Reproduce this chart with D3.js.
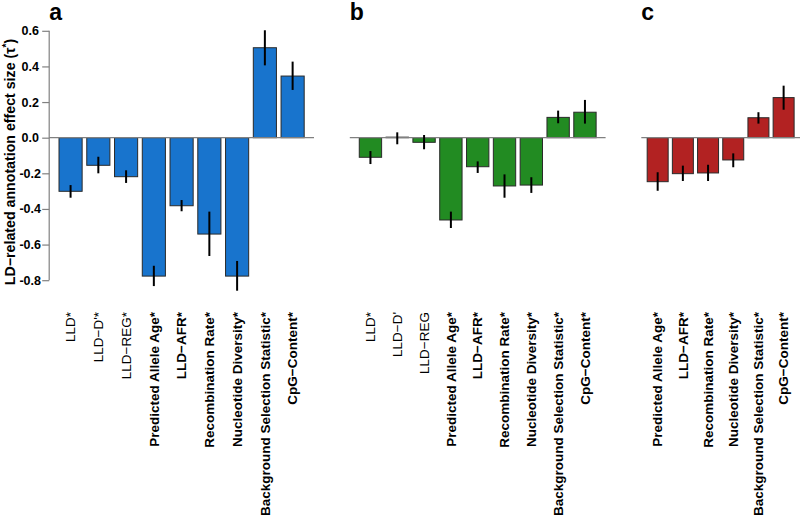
<!DOCTYPE html>
<html lang="en">
<head>
<meta charset="utf-8">
<title>LD-related annotation effect sizes</title>
<script src="https://d3js.org/d3.v7.min.js"></script>
<style>
    body { margin: 0; background: #fff; }
    text { font-family: Arial, Helvetica, sans-serif; fill: #000; }
</style>
</head>
<body>
<div id="chart"></div>
<script>
    // panel a - all annotations
    const labelsA = ["LLD*", "LLD\u2212D'*", "LLD\u2212REG*", "Predicted Allele Age*", "LLD\u2212AFR*",
        "Recombination Rate*", "Nucleotide Diversity*", "Background Selection Statistic*", "CpG\u2212Content*"];
    const valuesA = [-0.301, -0.155, -0.219, -0.777, -0.382, -0.541, -0.777, 0.505, 0.346];
    const lowerA  = [-0.337, -0.200, -0.254, -0.833, -0.413, -0.664, -0.859, 0.406, 0.268];
    const upperA  = [-0.266, -0.107, -0.183, -0.719, -0.350, -0.415, -0.692, 0.603, 0.427];
    const boldA   = [false, false, false, true, true, true, true, true, true];

    // panel b
    const labelsB = ["LLD*", "LLD\u2212D'", "LLD\u2212REG", "Predicted Allele Age*", "LLD\u2212AFR*",
        "Recombination Rate*", "Nucleotide Diversity*", "Background Selection Statistic*", "CpG\u2212Content*"];
    const valuesB = [-0.110, 0.003, -0.026, -0.462, -0.163, -0.271, -0.266, 0.114, 0.143];
    const lowerB  = [-0.148, -0.037, -0.065, -0.507, -0.198, -0.337, -0.310, 0.081, 0.079];
    const upperB  = [-0.075, 0.030, 0.015, -0.415, -0.133, -0.206, -0.222, 0.152, 0.212];
    const boldB   = [false, false, false, true, true, true, true, true, true];

    // panel c
    const labelsC = ["Predicted Allele Age*", "LLD\u2212AFR*", "Recombination Rate*", "Nucleotide Diversity*",
        "Background Selection Statistic*", "CpG\u2212Content*"];
    const valuesC = [-0.247, -0.202, -0.198, -0.125, 0.112, 0.225];
    const lowerC  = [-0.298, -0.243, -0.243, -0.166, 0.079, 0.157];
    const upperC  = [-0.194, -0.157, -0.152, -0.088, 0.143, 0.292];
    const boldC   = [true, true, true, true, true, true];

    const yTicks = [0.6, 0.4, 0.2, 0.0, -0.2, -0.4, -0.6, -0.8];

    const width = 800, height = 520;
    const svg = d3.select("#chart").append("svg")
        .attr("width", width)
        .attr("height", height);

    const y = d3.scaleLinear().domain([-0.8, 0.6]).range([280.2, 30.8]);

    const panels = [
        {letter: "a", labels: labelsA, values: valuesA, lower: lowerA, upper: upperA, bold: boldA, color: "#1874CD", left: 49.2, right: 314},
        {letter: "b", labels: labelsB, values: valuesB, lower: lowerB, upper: upperB, bold: boldB, color: "#228B22", left: 349.8, right: 605.6},
        {letter: "c", labels: labelsC, values: valuesC, lower: lowerC, upper: upperC, bold: boldC, color: "#B22222", left: 641.3, right: 800}
    ];

    panels.forEach(drawPanel);

    // y axis only on the first panel
    const yAxis = svg.append("g")
        .attr("transform", `translate(${panels[0].left},0)`)
        .call(d3.axisLeft(y).tickValues(yTicks).tickSize(7).tickFormat(d3.format(".1f")));
    yAxis.attr("font-family", null).attr("font-size", null);
    yAxis.select(".domain").attr("stroke", "#808080").attr("stroke-width", 1.2)
        .attr("d", `M0,${y(0.6)}V${y(-0.8)}`);
    yAxis.selectAll(".tick line").attr("stroke", "#808080").attr("stroke-width", 1.2);
    yAxis.selectAll(".tick text")
        .attr("x", -19)
        .attr("text-anchor", "middle")
        .style("font-size", "12.5px")
        .style("font-weight", "bold")
        .text(d => d3.format(".1f")(d).replace("\u2212", "-"));

    const title = svg.append("text")
        .attr("transform", `translate(15,162) rotate(-90)`)
        .attr("text-anchor", "middle")
        .style("font-size", "14.2px")
        .style("font-weight", "bold");
    title.append("tspan").text("LD\u2212related annotation effect size (\u03c4");
    title.append("tspan").attr("dy", -5).style("font-size", "10px").text("*");
    title.append("tspan").attr("dy", 5).text(")");

    function drawPanel(p) {
        const n = p.values.length;
        // same spacing as R barplot: space 0.2, 4% padding on both sides
        const ext = 0.04 * (1.2 * n - 0.2);
        const x = d3.scaleBand()
            .domain(d3.range(n))
            .range([p.left, p.right])
            .paddingInner(0.2 / 1.2)
            .paddingOuter(ext / 1.2);

        const g = svg.append("g");

        g.selectAll("rect")
            .data(p.values)
            .enter()
            .append("rect")
            .attr("x", (d, i) => x(i))
            .attr("width", x.bandwidth())
            .attr("y", d => y(Math.max(0, d)))
            .attr("height", d => Math.abs(y(d) - y(0)))
            .attr("fill", p.color)
            .attr("stroke", "#2a2a2a")
            .attr("stroke-width", 1);

        g.append("line")
            .attr("x1", p.left)
            .attr("x2", p.right)
            .attr("y1", y(0))
            .attr("y2", y(0))
            .attr("stroke", "#808080")
            .attr("stroke-width", 1.2);

        g.selectAll("line.err")
            .data(p.values)
            .enter()
            .append("line")
            .attr("class", "err")
            .attr("x1", (d, i) => x(i) + x.bandwidth() / 2)
            .attr("x2", (d, i) => x(i) + x.bandwidth() / 2)
            .attr("y1", (d, i) => y(p.lower[i]))
            .attr("y2", (d, i) => y(p.upper[i]))
            .attr("stroke", "#000")
            .attr("stroke-width", 2);

        g.selectAll("text.lab")
            .data(p.labels)
            .enter()
            .append("text")
            .attr("class", "lab")
            .attr("transform", (d, i) => `translate(${x(i) + x.bandwidth() / 2},312) rotate(-90)`)
            .attr("dy", "0.35em")
            .attr("text-anchor", "end")
            .style("font-size", "13.5px")
            .style("font-weight", (d, i) => p.bold[i] ? "bold" : "normal")
            .text(d => d);

        g.append("text")
            .attr("x", p.left)
            .attr("y", 20)
            .style("font-size", "23px")
            .style("font-weight", "bold")
            .text(p.letter);
    }
</script>
</body>
</html>
